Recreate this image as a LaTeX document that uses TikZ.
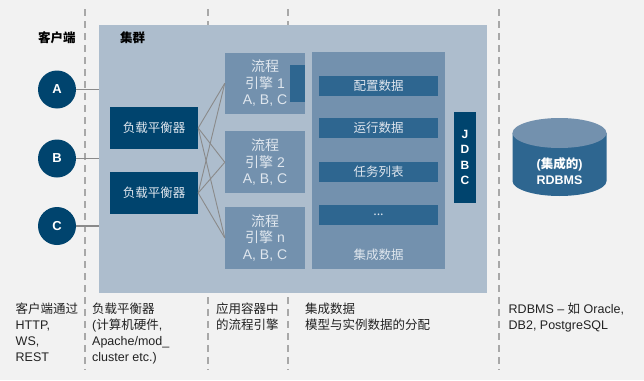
\documentclass[tikz,border=0pt]{standalone}
\usepackage{fontspec}
\setmainfont{Liberation Sans}
\newfontfamily\cjk{Noto Sans CJK SC}
\definecolor{bgc}{HTML}{F2F2F2}
\definecolor{clusterc}{HTML}{ADBDCD}
\definecolor{midc}{HTML}{7391AE}
\definecolor{barc}{HTML}{2E6690}
\definecolor{darkc}{HTML}{00446E}
\definecolor{lightt}{HTML}{DFE6EE}
\definecolor{linec}{HTML}{8A8A8A}
\definecolor{dashc}{HTML}{A8A8A8}
\definecolor{textc}{HTML}{222222}
\tikzset{
  box/.style={rectangle, inner sep=0pt, draw=none},
  darkbox/.style={box, fill=darkc, text=lightt, font=\fontsize{12.5}{15}\selectfont\cjk},
  engbox/.style={box, fill=midc, text=lightt, align=center, minimum width=80pt, minimum height=62pt, font=\fontsize{14}{16.3}\selectfont},
  barbox/.style={box, fill=barc, text=lightt, minimum width=119pt, minimum height=20pt, font=\fontsize{12.5}{15}\selectfont\cjk},
  client/.style={circle, fill=darkc, text=white, inner sep=0pt, minimum size=38pt, font=\fontsize{13}{15}\selectfont\bfseries},
  sepline/.style={dashc, line width=1.2pt, dash pattern=on 6.5pt off 5.5pt},
  conn/.style={linec, line width=1.2pt},
  caption/.style={inner sep=0pt, anchor=north west, align=left, text=textc, font=\fontsize{12.5}{16}\selectfont},
  head/.style={inner sep=0pt, text=black, font=\fontsize{12.5}{15}\selectfont\cjk\bfseries},
}
\begin{document}
\begin{tikzpicture}[x=1pt,y=-1pt]
\fill[bgc] (0,0) rectangle (644,380);
\useasboundingbox (0,0) rectangle (644,380);
% separators
\draw[sepline] (85,9) -- (85,370);
\draw[sepline] (208,9) -- (208,370);
\draw[sepline] (288,9) -- (288,370);
\draw[sepline] (499,9) -- (499,370);
% cluster
\node[box, fill=clusterc, minimum width=388pt, minimum height=268pt] (cluster) at (293,159) {};
\node[head, anchor=west] (hclient) at (38,38) {客户端};
\node[head, anchor=west] (hcluster) at (120,38) {集群};
% clients
\node[client] (A) at (57,89.5) {A};
\node[client] (B) at (57,158.5) {B};
\node[client] (C) at (57,226) {C};
\draw[conn] (A.east) -- (A.east -| cluster.west);
\draw[conn] (B.east) -- (B.east -| cluster.west);
\draw[conn] (C.east) -- (C.east -| cluster.west);
% load balancers
\node[darkbox, minimum width=88pt, minimum height=42pt] (lb1) at (154,128) {负载平衡器};
\node[darkbox, minimum width=88pt, minimum height=42pt] (lb2) at (154,193) {负载平衡器};
% engines
\node[engbox, minimum height=61pt] (e1) at (265,83.2) {{\cjk 流程}\\{\cjk 引擎} 1\\A, B, C};
\node[engbox] (e2) at (265,162.3) {{\cjk 流程}\\{\cjk 引擎} 2\\A, B, C};
\node[engbox] (en) at (265,238) {{\cjk 流程}\\{\cjk 引擎} n\\A, B, C};
\node[box, fill=barc, minimum width=15pt, minimum height=37pt] (e1tab) at (297.5,83.5) {};
\foreach \l in {lb1,lb2}{
  \foreach \e in {e1,e2,en}{
    \draw[conn, line width=0.9pt] (\l.east) -- (\e.west);
  }
}
% integrated data
\node[box, fill=midc, minimum width=133pt, minimum height=217pt] (data) at (378.5,160.5) {};
\node[barbox] (b1) at (378.5,86) {配置数据};
\node[barbox] (b2) at (378.5,128) {运行数据};
\node[barbox] (b3) at (378.5,172) {任务列表};
\node[barbox] (b4) at (378.5,215) {...};
\node[inner sep=0pt, text=lightt, font=\fontsize{12.5}{15}\selectfont\cjk] (datalbl) at (378.5,255) {集成数据};
% JDBC
\node[box, fill=darkc, text=white, minimum width=22pt, minimum height=91pt, align=center, font=\fontsize{12}{15.5}\selectfont\bfseries] (jdbc) at (465,157.5) {J\\D\\B\\C};
% database cylinder
\fill[barc] (512.5,133) -- (512.5,181) arc[start angle=180, end angle=360, x radius=47pt, y radius=15pt] -- (606.5,133) -- cycle;
\fill[midc] (559.5,133) ellipse[x radius=47pt, y radius=15pt];
\node[inner sep=0pt, text=white, align=center, font=\fontsize{12.5}{15.5}\selectfont\bfseries] (db) at (559.5,171) {({\cjk\bfseries 集成的})\\RDBMS};
% captions
\node[caption] (c1) at (15.5,303) {{\cjk 客户端通过}\\HTTP,\\WS,\\REST};
\node[caption] (c2) at (92,303) {{\cjk 负载平衡器}\\({\cjk 计算机硬件},\\Apache/mod\_\\cluster etc.)};
\node[caption] (c3) at (216,303) {{\cjk 应用容器中}\\{\cjk 的流程引擎}};
\node[caption] (c4) at (305,303) {{\cjk 集成数据}\\{\cjk 模型与实例数据的分配}};
\node[caption] (c5) at (508.5,303) {RDBMS – {\cjk 如} Oracle,\\DB2, PostgreSQL};
\end{tikzpicture}
\end{document}
